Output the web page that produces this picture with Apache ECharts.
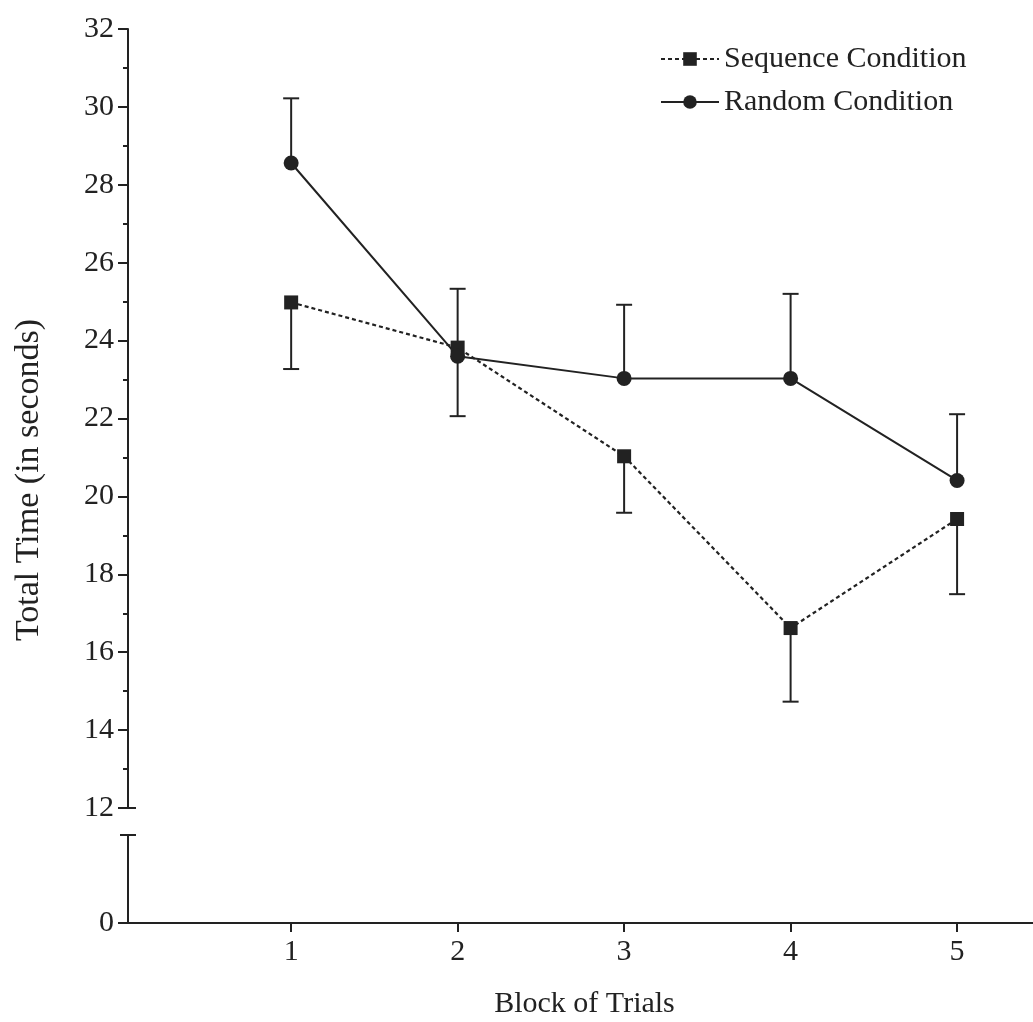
<!DOCTYPE html>
<html>
<head>
<meta charset="utf-8">
<script src="https://cdn.jsdelivr.net/npm/echarts@6/dist/echarts.min.js"></script>
<style>
    html, body {margin: 0; padding: 0; background: #fff;}
    #chart {width: 1033px; height: 1022px;}
</style>
</head>
<body>
<div id="chart"></div>
<script>
const blocks = [1, 2, 3, 4, 5]
const seqMean = [24.98, 23.82, 21.03, 16.62, 19.42]
const seqLower = [23.27, 22.06, 19.58, 14.73, 17.49]
const randMean = [28.56, 23.6, 23.03, 23.03, 20.41]
const randUpper = [30.22, 25.33, 24.92, 25.2, 22.11]

const ink = '#222'
const font = 'Liberation Serif'

const errRender = (params, api) => {
    const x = api.value(0)
    const p0 = api.coord([x, api.value(1)])
    const p1 = api.coord([x, api.value(2)])
    const half = 8
    return {
        type: 'group',
        children: [
            {type: 'line', shape: {x1: p0[0], y1: p0[1], x2: p1[0], y2: p1[1]}, style: {stroke: ink, lineWidth: 2}},
            {type: 'line', shape: {x1: p1[0] - half, y1: p1[1], x2: p1[0] + half, y2: p1[1]}, style: {stroke: ink, lineWidth: 2}},
        ],
    }
}

const chart = echarts.init(document.getElementById('chart'))
chart.setOption({
    backgroundColor: '#fff',
    animation: false,
    textStyle: {fontFamily: font, color: ink},
    grid: [
        {left: 128, right: 0, top: 29, height: 779},
        {left: 128, right: 0, top: 835, height: 88},
    ],
    legend: {
        orient: 'vertical',
        left: 655,
        top: 39,
        itemWidth: 58,
        itemHeight: 17,
        itemGap: 13,
        textStyle: {fontFamily: font, fontSize: 30, color: ink},
        data: ['Sequence Condition', 'Random Condition'],
    },
    xAxis: [
        {
            gridIndex: 0, type: 'value', min: 0.02, max: 5.456, show: false,
        },
        {
            gridIndex: 1, type: 'value', min: 0.02, max: 5.456,
            name: 'Block of Trials', nameLocation: 'middle', nameGap: 66,
            nameTextStyle: {fontFamily: font, fontSize: 30, color: ink, padding: [0, 0, 0, 8]},
            axisLine: {lineStyle: {color: ink, width: 2}},
            axisTick: {length: 9, lineStyle: {color: ink, width: 2}, customValues: blocks},
            axisLabel: {customValues: blocks, fontFamily: font, fontSize: 30, color: ink, margin: 14},
            splitLine: {show: false},
        },
    ],
    yAxis: [
        {
            gridIndex: 0, type: 'value', min: 12, max: 32, interval: 2,
            axisLine: {
                show: true, lineStyle: {color: ink, width: 2},
                symbol: ['rect', 'none'], symbolSize: [16, 2],
            },
            axisTick: {length: 10, lineStyle: {color: ink, width: 2}},
            minorTick: {show: true, splitNumber: 2, length: 5, lineStyle: {color: ink, width: 2}},
            axisLabel: {fontFamily: font, fontSize: 30, color: ink, margin: 14},
            splitLine: {show: false},
        },
        {
            gridIndex: 1, type: 'value', min: 0, max: 1,
            axisLine: {
                show: true, lineStyle: {color: ink, width: 2},
                symbol: ['none', 'rect'], symbolSize: [16, 2],
            },
            axisTick: {length: 10, lineStyle: {color: ink, width: 2}, customValues: [0]},
            axisLabel: {customValues: [0], fontFamily: font, fontSize: 30, color: ink, margin: 14},
            splitLine: {show: false},
        },
    ],
    graphic: [
        {
            type: 'text',
            x: 12,
            y: 480,
            rotation: Math.PI / 2,
            style: {
                text: 'Total Time (in seconds)',
                font: '34px "Liberation Serif"',
                fill: ink,
                align: 'center',
                verticalAlign: 'top',
            },
        },
    ],
    series: [
        {
            type: 'custom',
            xAxisIndex: 0, yAxisIndex: 0,
            renderItem: errRender,
            data: blocks.map((b, i) => [b, seqMean[i], seqLower[i]]),
            z: 1,
            silent: true,
        },
        {
            type: 'custom',
            xAxisIndex: 0, yAxisIndex: 0,
            renderItem: errRender,
            data: blocks.map((b, i) => [b, randMean[i], randUpper[i]]),
            z: 1,
            silent: true,
        },
        {
            name: 'Sequence Condition',
            type: 'line',
            xAxisIndex: 0, yAxisIndex: 0,
            data: blocks.map((b, i) => [b, seqMean[i]]),
            symbol: 'rect',
            symbolSize: 14,
            itemStyle: {color: ink},
            lineStyle: {color: ink, width: 2.2, type: [4, 3]},
            z: 3,
        },
        {
            name: 'Random Condition',
            type: 'line',
            xAxisIndex: 0, yAxisIndex: 0,
            data: blocks.map((b, i) => [b, randMean[i]]),
            symbol: 'circle',
            symbolSize: 15,
            itemStyle: {color: ink},
            lineStyle: {color: ink, width: 2},
            z: 3,
        },
    ],
})
</script>
</body>
</html>
